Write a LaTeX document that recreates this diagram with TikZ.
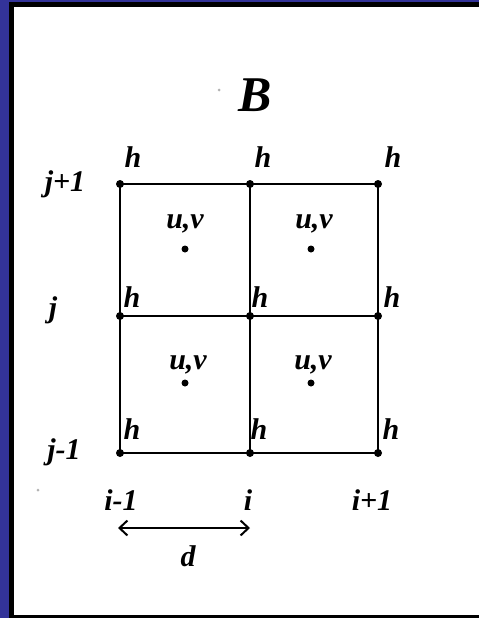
\documentclass[tikz,border=0pt]{standalone}
\usepackage{fontspec}
\setmainfont{Liberation Serif}
\usetikzlibrary{arrows.meta}
\definecolor{framenavy}{RGB}{51,51,153}
\begin{document}
\begin{tikzpicture}[x=1pt,y=-1pt,
  lbl/.style={font=\fontsize{30}{30}\selectfont\bfseries\itshape, inner sep=0pt, anchor=base},
  hlbl/.style={font=\fontsize{30}{30}\selectfont\bfseries\itshape, inner sep=0pt},
  gridline/.style={line width=2.2pt, black},
  gdot/.style={circle, fill=black, inner sep=0pt, minimum size=8pt},
  cdot/.style={circle, fill=black, inner sep=0pt, minimum size=7pt},
  speck/.style={circle, fill=black!30, inner sep=0pt, minimum size=3pt}]
\useasboundingbox (0,0) rectangle (479,618);
\fill[framenavy] (0,0) rectangle (479,618);
\fill[black] (9,2) rectangle (479,618);
\fill[white] (14,7) rectangle (479,615);
% grid nodes
\node[gdot] (a1) at (120,184) {};
\node[gdot] (a2) at (250,184) {};
\node[gdot] (a3) at (378,184) {};
\node[gdot] (b1) at (120,316) {};
\node[gdot] (b2) at (250,316) {};
\node[gdot] (b3) at (378,316) {};
\node[gdot] (c1) at (120,453) {};
\node[gdot] (c2) at (250,453) {};
\node[gdot] (c3) at (378,453) {};
\draw[gridline] (a1.center) -- (a2.center) -- (a3.center);
\draw[gridline] (b1.center) -- (b2.center) -- (b3.center);
\draw[gridline] (c1.center) -- (c2.center) -- (c3.center);
\draw[gridline] (a1.center) -- (b1.center) -- (c1.center);
\draw[gridline] (a2.center) -- (b2.center) -- (c2.center);
\draw[gridline] (a3.center) -- (b3.center) -- (c3.center);
% cell centres
\node[cdot] (p1) at (185,249) {};
\node[cdot] (p2) at (311,249) {};
\node[cdot] (p3) at (185,383) {};
\node[cdot] (p4) at (311,383) {};
\node[lbl] (uv1) at (185,228) {u,v};
\node[lbl] (uv2) at (314,228) {u,v};
\node[lbl] (uv3) at (188,369) {u,v};
\node[lbl] (uv4) at (313,369) {u,v};
% h labels
\node[hlbl] (h1) at (133,157) {h};
\node[hlbl] (h2) at (263,157) {h};
\node[hlbl] (h3) at (393,157) {h};
\node[hlbl] (h4) at (132,297) {h};
\node[hlbl] (h5) at (260,297) {h};
\node[hlbl] (h6) at (392,297) {h};
\node[hlbl] (h7) at (132,429) {h};
\node[hlbl] (h8) at (259,429) {h};
\node[hlbl] (h9) at (391,429) {h};
% row labels
\node[lbl] (jp) at (65,191) {j+1};
\node[lbl] (j0) at (53,317) {j};
\node[lbl] (jm) at (64,459) {j-1};
% column labels
\node[lbl] (im) at (121,510) {i-1};
\node[lbl] (i0) at (248,510) {i};
\node[lbl] (ip) at (372,510) {i+1};
% distance arrow
\coordinate (dl) at (118,528);
\coordinate (dr) at (250,528);
\draw[line width=2pt, {Straight Barb[length=8pt,width=15pt]}-{Straight Barb[length=8pt,width=15pt]}] (dl) -- (dr);
\node[lbl] (d) at (188,566) {d};
% title
\node[font=\fontsize{50}{50}\selectfont\bfseries\itshape, inner sep=0pt, anchor=base] (B) at (255,111) {B};
% specks
\node[speck] (s1) at (219,90) {};
\node[speck] (s2) at (38,490) {};
\end{tikzpicture}
\end{document}
